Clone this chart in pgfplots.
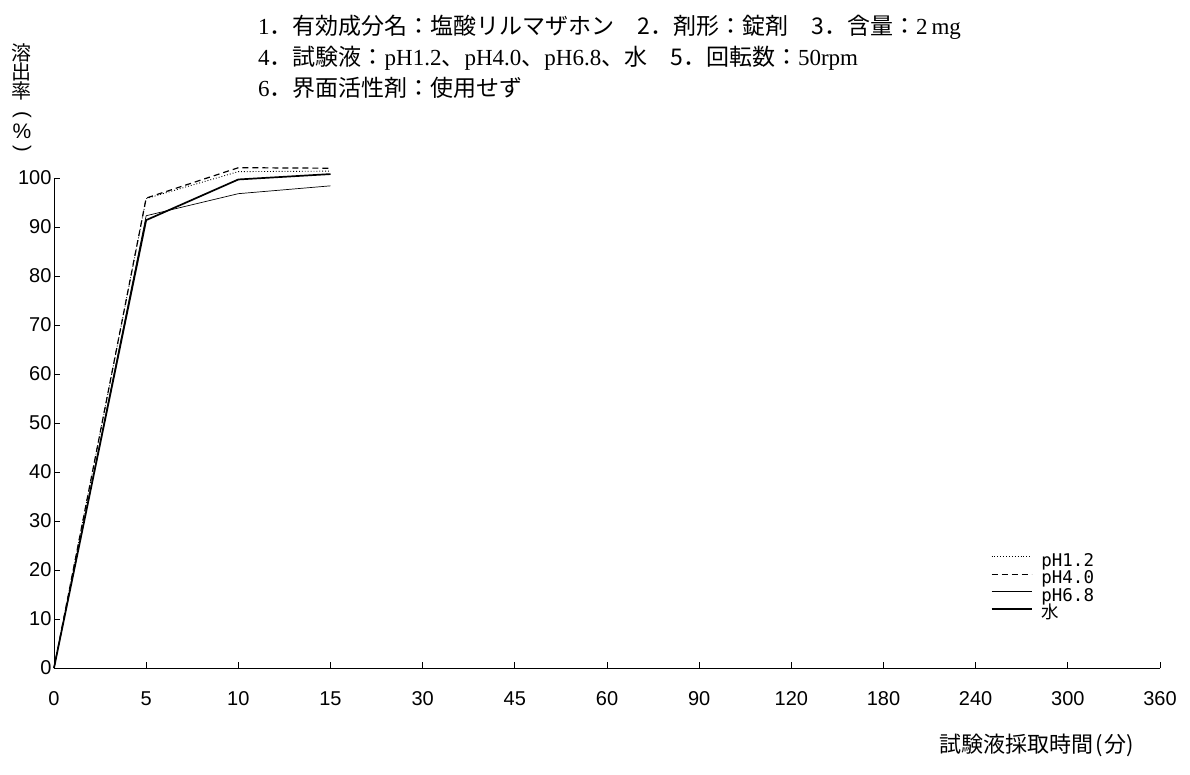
\documentclass[border=0pt]{standalone}
\usepackage{pgfplots}
\pgfplotsset{compat=1.18}
\usepackage{fontspec}
\setmainfont{Liberation Serif}
\newfontfamily\cjk{Noto Sans CJK JP}
\newfontfamily\tickfont{Liberation Sans}
\newfontfamily\legfont{DejaVu Sans Mono}
\begin{document}
\begin{tikzpicture}
\useasboundingbox (-54pt,-106pt) rectangle (1136pt,668pt);
\begin{axis}[at={(0,0)}, anchor=south west, scale only axis,
  width=1106pt, height=490pt,
  xmin=0, xmax=12, ymin=0, ymax=100, clip=false,
  axis lines=left, axis line style={-, line width=0.8pt},
  xtick={0,...,12},
  xticklabels={0,5,10,15,30,45,60,90,120,180,240,300,360},
  ytick={0,10,...,100},
  tick align=inside, major tick length=6pt,
  tick style={line width=0.8pt, black},
  ticklabel style={font=\tickfont\fontsize{20}{22}\selectfont},
  /pgf/number format/assume math mode=true,
  xticklabel style={yshift=-20pt}, yticklabel style={xshift=1pt},
  legend style={at={(0.844,0.236)}, anchor=north west, draw=none, fill=none,
    font=\legfont\fontsize{17.5}{17.5}\selectfont, row sep=3pt,
    nodes={inner sep=0pt, text height=11.5pt, text depth=3pt},
    /tikz/every odd column/.append style={column sep=9pt}},
  legend cell align=left,
  legend image code/.code={\draw[#1] (0pt,5pt) -- (40pt,5pt);},
]
\addplot[black, line width=0.9pt, dotted] coordinates {(0,0) (1,95.8) (2,101.3) (3,101.4)};
\addlegendentry{pH1.2}
\addplot[black, line width=1.2pt, dash pattern=on 6pt off 4pt] coordinates {(0,0) (1,95.9) (2,102.1) (3,102.0)};
\addlegendentry{pH4.0}
\addplot[black, line width=0.7pt] coordinates {(0,0) (1,92.3) (2,96.8) (3,98.4)};
\addlegendentry{pH6.8}
\addplot[black, line width=1.7pt] coordinates {(0,0) (1,91.4) (2,99.7) (3,100.8)};
\addlegendentry{\cjk 水}
\end{axis}
\node[anchor=west, inner sep=0pt, font=\fontsize{23}{26}\selectfont] at (204pt,641pt)
 {1\cjk．有効成分名：塩酸リルマザホン　2．剤形：錠剤　3．含量：\rm 2\,mg};
\node[anchor=west, inner sep=0pt, font=\fontsize{23}{26}\selectfont] at (204pt,610pt)
 {4\cjk．試験液：\rm pH1.2\cjk、\rm pH4.0\cjk、\rm pH6.8\cjk、水　5．回転数：\rm 50rpm};
\node[anchor=west, inner sep=0pt, font=\fontsize{23}{26}\selectfont] at (204pt,580pt)
 {6\cjk．界面活性剤：使用せず};
\node[anchor=center, inner sep=0pt, font=\cjk\fontsize{20}{20}\selectfont] at (-32pt,615.5pt) {溶};
\node[anchor=center, inner sep=0pt, font=\cjk\fontsize{20}{20}\selectfont] at (-32pt,596.5pt) {出};
\node[anchor=center, inner sep=0pt, font=\cjk\fontsize{20}{20}\selectfont] at (-32pt,577.5pt) {率};
\node[anchor=center, inner sep=0pt, rotate=-90, font=\tickfont\fontsize{20}{20}\selectfont] at (-32pt,553pt) {(};
\node[anchor=center, inner sep=0pt, font=\tickfont\fontsize{21}{22}\selectfont] at (-32pt,536.5pt) {\%};
\node[anchor=center, inner sep=0pt, rotate=-90, font=\tickfont\fontsize{20}{20}\selectfont] at (-32pt,519.5pt) {)};
\node[anchor=center, inner sep=0pt, font=\cjk\fontsize{22}{24}\selectfont] at (983pt,-77pt)
 {試験液採取時間\kern2pt(\kern1pt分\kern1pt)};
\end{tikzpicture}
\end{document}
